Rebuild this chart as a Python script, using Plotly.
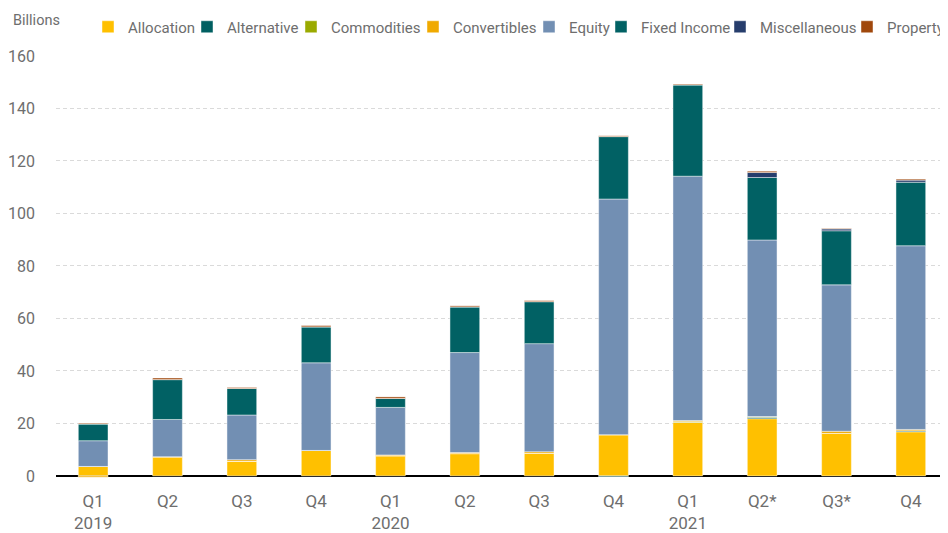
import plotly.graph_objects as go

quarters = ["Q1 2019", "Q2 2019", "Q3 2019", "Q4 2019",
            "Q1 2020", "Q2 2020", "Q3 2020", "Q4 2020",
            "Q1 2021", "Q2 2021", "Q3 2021", "Q4 2021"]
tick_labels = ["Q1<br>2019", "Q2", "Q3", "Q4",
               "Q1<br>2020", "Q2", "Q3", "Q4",
               "Q1<br>2021", "Q2*", "Q3*", "Q4"]

allocation   = [3.6, 7.3, 5.6, 9.7, 7.7, 8.5, 8.6, 15.7, 20.4, 21.8, 16.2, 16.8]
alternative  = [0, 0, 0, 0, 0, 0, 0, -0.3, 0, 0.5, 0, 0.4]
commodities  = [0, 0, 0, 0, 0, 0, 0, 0, 0.3, 0.3, 0, 0]
convertibles = [-0.5, 0, 0.6, 0, 0.3, 0.4, 0.6, 0, 0.4, 0, 0.8, 0.5]
equity       = [9.8, 14.2, 17.0, 33.4, 18.1, 38.1, 41.2, 89.8, 93.1, 67.3, 55.8, 70.0]
fixed_income = [6.4, 15.2, 10.1, 13.7, 3.4, 17.4, 16.0, 23.8, 34.8, 23.8, 20.6, 24.2]
miscellaneous = [0, 0, 0, 0, 0, 0, 0, 0, 0, 1.9, 0.7, 0.8]
property_ = [0.3, 0.6, 0.4, 0.5, 0.6, 0.4, 0.4, 0.3, 0.3, 0.5, 0.2, 0.4]

series_names = ["Allocation", "Alternative", "Commodities", "Convertibles",
                "Equity", "Fixed Income", "Miscellaneous", "Property"]
series_values = [allocation, alternative, commodities, convertibles,
                 equity, fixed_income, miscellaneous, property_]
series_colors = ["#FFC000", "#005F61", "#9AAA00", "#F0AA00",
                 "#728FB3", "#016164", "#263D6C", "#A0480C"]

FONT = "Roboto, sans-serif"
GRAY = "#6E6E6E"

# the page body has an 8px margin, so the figure is 8px smaller and offset
PAGE_OFF = 8
W, H = 948 - PAGE_OFF, 533 - PAGE_OFF
ML, MR, MT, MB = 56 - PAGE_OFF, 0, 56 - PAGE_OFF, 55
PW = W - ML - MR
PH = H - MT - MB

# legend box left edges (page px), placed so swatches sit where the reference shows them
legend_left_px = [88, 187, 291, 413, 529, 601, 720, 847]

fig = go.Figure()
layout_legends = {}
for i, (name, vals, col) in enumerate(zip(series_names, series_values, series_colors)):
    lname = "legend" if i == 0 else f"legend{i + 1}"
    fig.add_trace(go.Bar(
        x=quarters, y=vals, name=name, legend=lname,
        marker=dict(color=col, line=dict(color="rgba(255,255,255,0.45)", width=1)),
    ))
    layout_legends[lname] = dict(
        xref="container", yref="container",
        x=(legend_left_px[i] - PAGE_OFF) / W, xanchor="left",
        y=1 - (27 - PAGE_OFF) / H, yanchor="middle",
        orientation="h", bgcolor="rgba(0,0,0,0)", borderwidth=0,
        font=dict(family=FONT, size=15, color=GRAY), itemwidth=30,
    )

fig.update_layout(
    width=W, height=H,
    margin=dict(l=ML, r=MR, t=MT, b=MB, autoexpand=False),
    barmode="relative", bargap=0.6,
    plot_bgcolor="white", paper_bgcolor="white",
    font=dict(family=FONT, size=16, color=GRAY),
    showlegend=True,
    **layout_legends,
)
fig.update_xaxes(
    tickvals=quarters, ticktext=tick_labels,
    showgrid=False, showline=False, ticks="",
    ticklabelstandoff=11, automargin=False,
    tickfont=dict(family=FONT, size=17, color=GRAY),
)
fig.update_yaxes(
    range=[-0.8, 160], tickvals=[0, 20, 40, 60, 80, 100, 120, 140, 160],
    showgrid=True, gridcolor="#DADADA", griddash="4px,3px", gridwidth=1,
    zeroline=True, zerolinecolor="black", zerolinewidth=2,
    showline=False, ticks="", ticklabelstandoff=20, automargin=False,
    tickfont=dict(family=FONT, size=16, color=GRAY),
)
fig.add_annotation(
    text="Billions", xref="paper", yref="paper",
    x=(11 - 56) / PW, xanchor="left", y=1 + (56 - 20) / PH, yanchor="middle",
    showarrow=False, font=dict(family=FONT, size=14.5, color=GRAY),
)

fig.write_html("out.html")
